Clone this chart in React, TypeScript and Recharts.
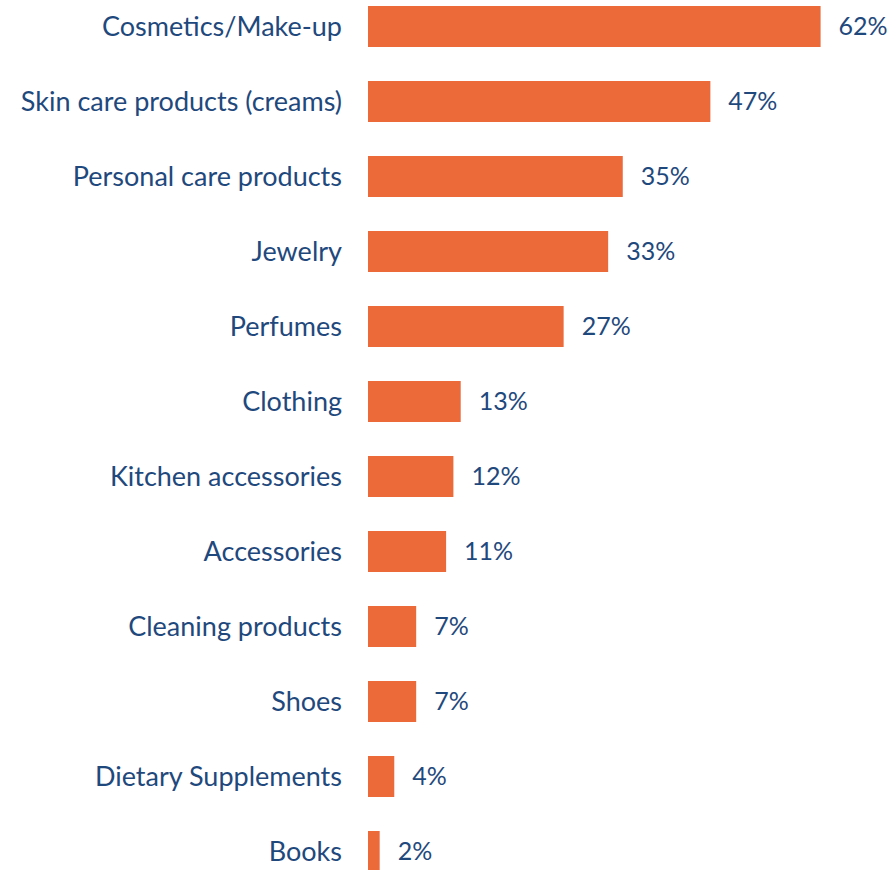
import React from 'react';
import { BarChart, Bar, XAxis, YAxis, LabelList } from 'recharts';

const categories = [
  'Cosmetics/Make-up',
  'Skin care products (creams)',
  'Personal care products',
  'Jewelry',
  'Perfumes',
  'Clothing',
  'Kitchen accessories',
  'Accessories',
  'Cleaning products',
  'Shoes',
  'Dietary Supplements',
  'Books',
];

const shares = [62, 46.9, 34.9, 32.9, 26.8, 12.7, 11.7, 10.7, 6.6, 6.6, 3.6, 1.6];

const shareLabels = ['62%', '47%', '35%', '33%', '27%', '13%', '12%', '11%', '7%', '7%', '4%', '2%'];

const data = categories.map((name, i) => ({ name, value: shares[i], label: shareLabels[i] }));

const ORANGE = '#EC6A3A';
const NAVY = '#1F497D';
const FONT = 'Lato, "Open Sans", sans-serif';

export default function App() {
  return (
    <div style={{ position: 'absolute', left: 0, top: 0, width: 892, height: 870, overflow: 'hidden', background: '#fff' }}>
      <div style={{ position: 'absolute', left: 0, top: -11.5 }}>
        <BarChart
          width={892}
          height={900}
          data={data}
          layout="vertical"
          margin={{ top: 0, right: 13, left: 0, bottom: 0 }}
        >
          <XAxis type="number" domain={[0, 70]} hide />
          <YAxis
            type="category"
            dataKey="name"
            width={368}
            axisLine={false}
            tickLine={false}
            tickMargin={20}
            interval={0}
            tick={{ fill: NAVY, fontSize: 27, fontFamily: FONT }}
          />
          <Bar dataKey="value" fill={ORANGE} barSize={41} isAnimationActive={false}>
            <LabelList
              dataKey="label"
              position="right"
              offset={18}
              style={{ fill: NAVY, fontSize: 25, fontFamily: FONT }}
            />
          </Bar>
        </BarChart>
      </div>
    </div>
  );
}
